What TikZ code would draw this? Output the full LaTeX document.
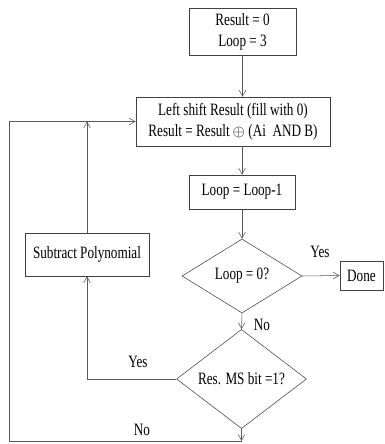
\documentclass[tikz,border=0pt]{standalone}
\usepackage{amsmath}
\usepackage{amssymb}
\usepackage{fontspec}
\setmainfont{Liberation Serif}[FakeStretch=0.76]
\usetikzlibrary{shapes.geometric,arrows.meta}

\tikzset{
  box/.style={draw=black!75,thin,rectangle,align=center,inner sep=1pt},
  test/.style={draw=black!75,thin,diamond,inner sep=0pt,align=center},
  flow/.style={draw=black!65,thin,-{Straight Barb[length=4.5pt,width=5pt]}},
  lbl/.style={inner sep=0pt}
}

\begin{document}
\begin{tikzpicture}[x=0.75pt,y=-0.75pt,font=\fontsize{13}{15.5}\selectfont]
        \useasboundingbox (0,0) rectangle (385,444);
        % boxes
        \node[box,minimum width=80.25pt,minimum height=35.25pt] (init) at (242.5,31.5) {Result = 0\\ Loop = 3};
        \node[box,minimum width=145.5pt,minimum height=36.75pt] (shift) at (233,121.5) {Left shift Result (fill with 0)\\ Result = Result\,$\oplus$ (Ai\ \ AND\ B)};
        \node[box,minimum width=79.5pt,minimum height=25.5pt] (dec) at (242,192) {Loop = Loop-1};
        \node[test,minimum width=90pt,minimum height=55.5pt] (zero) at (242,276) {Loop = 0?};
        \node[box,minimum width=32.25pt,minimum height=21.75pt] (done) at (361.5,275.5) {Done};
        \node[test,minimum width=97.5pt,minimum height=54pt] (msb) at (241.5,379) {Res. MS bit =1?};
        \node[box,minimum width=93pt,minimum height=32.25pt] (sub) at (87,254.5) {Subtract Polynomial};
        \coordinate (corner) at (9,441);
        % connectors
        \draw[flow] (init.south) -- (init.south |- shift.north);
        \draw[flow] (dec.north |- shift.south) -- (dec.north);
        \draw[flow] (dec.south) -- (zero.north);
        \draw[flow] (zero.east) -- (done.west);
        \draw[flow] (zero.south) -- (msb.north);
        \draw[flow] (msb.west) -- (sub.south |- msb.west) -- (sub.south);
        \draw[flow] (sub.north) -- (sub.north |- shift.west);
        \draw[flow] (msb.south) -- (msb.south |- corner);
        \draw[flow] (msb.south |- corner) -- (corner) -- (corner |- shift.west) -- (shift.west);
        % labels
        \node[lbl] (yes1) at (320,252) {Yes};
        \node[lbl] (no1) at (262,325) {No};
        \node[lbl] (yes2) at (138,362) {Yes};
        \node[lbl] (no2) at (142,430) {No};
\end{tikzpicture}
\end{document}
